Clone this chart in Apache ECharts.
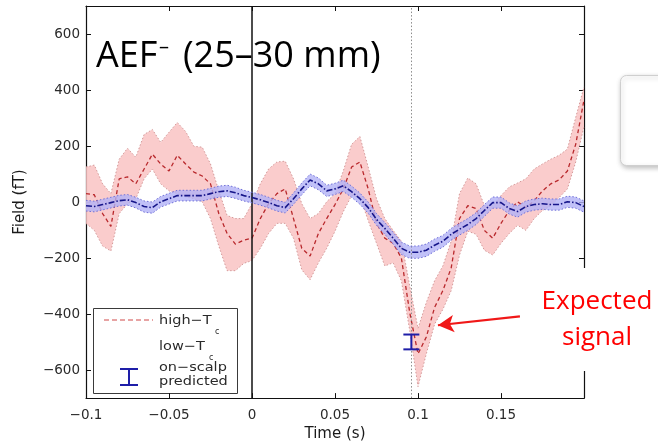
<!DOCTYPE html>
<html>
<head>
<meta charset="utf-8">
<script src="https://cdn.jsdelivr.net/npm/echarts@6/dist/echarts.min.js"></script>
<style>
  html, body { margin: 0; padding: 0; background: #ffffff; }
  #chart { width: 658px; height: 447px; }
</style>
</head>
<body>
<div id="chart"></div>
<script>
// Time base (s), one sample every 5 ms
const timeS = [-0.100,-0.095,-0.090,-0.085,-0.080,-0.075,-0.070,-0.065,-0.060,-0.055,
  -0.050,-0.045,-0.040,-0.035,-0.030,-0.025,-0.020,-0.015,-0.010,-0.005,
  0.000,0.005,0.010,0.015,0.020,0.025,0.030,0.035,0.040,0.045,
  0.050,0.055,0.060,0.065,0.070,0.075,0.080,0.085,0.090,0.095,
  0.100,0.105,0.110,0.115,0.120,0.125,0.130,0.135,0.140,0.145,
  0.150,0.155,0.160,0.165,0.170,0.175,0.180,0.185,0.190,0.195,0.200];

// high-Tc sensor: mean field (fT) and the upper / lower edges of its error band
const highMean = [30,26,-41,-87,83,90,65,118,171,136,
  111,167,136,107,93,65,-41,-112,-150,-136,
  -129,-59,-6,30,47,-59,-165,-193,-112,-59,
  -9,47,125,143,47,-76,-129,-147,-200,-394,
  -542,-482,-376,-316,-235,-59,-13,-23,-101,-129,
  -76,-30,1,-20,5,40,65,79,111,206,365];
const highUpper = [125,132,65,30,153,192,160,241,259,213,
  249,284,252,199,196,136,40,-48,-59,-59,
  -6,65,118,143,146,83,-6,-59,-41,1,
  30,111,206,234,125,12,-59,-101,-140,-299,
  -451,-359,-281,-228,-140,30,86,65,-13,-13,
  23,54,68,83,118,136,153,167,189,302,411];
const highLower = [-76,-101,-157,-175,-41,-6,12,83,118,65,
  40,30,19,12,1,-59,-157,-245,-245,-219,
  -209,-165,-112,-76,-76,-129,-242,-277,-217,-165,
  -104,-34,23,19,-66,-147,-228,-217,-281,-458,
  -659,-542,-436,-383,-316,-189,-104,-115,-172,-189,
  -147,-112,-83,-101,-59,-30,-13,16,47,143,270];

// low-Tc sensor: mean field (fT) and half-width of its error band
const lowMean = [-13,-16,-9,-2,5,8,-2,-16,-20,1,
  12,23,23,23,23,30,37,40,33,23,
  16,8,-2,-13,-20,12,47,79,65,40,
  47,58,37,12,-20,-62,-94,-129,-165,-179,
  -179,-172,-154,-140,-115,-97,-80,-59,-30,-2,
  -2,-23,-34,-16,-9,-6,-9,-9,1,-2,-16];
const lowErr = [19,19,19,19,19,19,19,20,20,19,
  19,19,19,19,19,19,20,20,20,19,
  19,19,19,19,19,20,21,21,21,20,
  20,20,20,20,20,21,21,21,22,22,
  22,22,22,21,21,21,21,21,21,20,
  20,20,20,20,20,20,20,20,20,20,20];

// On-scalp prediction: time (s), low and high end of the error bar (fT)
const predictedTime = 0.096;
const predictedRange = [-526, -473];

// Axis ticks
const yTicks = [-600, -400, -200, 0, 200, 400, 600];
const xTicks = [-0.1, -0.05, 0, 0.05, 0.1, 0.15];

// Arrow annotation: tail and head in (s, fT)
const arrowTail = [0.1614, -408];
const arrowHead = [0.1120, -440];

const pairs = (xs, ys) => xs.map((x, i) => [x, ys[i]]);
const lowUpper = lowMean.map((v, i) => v + lowErr[i]);
const lowLower = lowMean.map((v, i) => v - lowErr[i]);

function bandSeries(upper, lower, fill, z) {
  return {
    type: 'custom',
    z: z,
    silent: true,
    data: [[timeS[0], upper[0]]],
    renderItem: function (params, api) {
      const pts = [];
      for (let i = 0; i < timeS.length; i++) pts.push(api.coord([timeS[i], upper[i]]));
      for (let i = timeS.length - 1; i >= 0; i--) pts.push(api.coord([timeS[i], lower[i]]));
      return { type: 'polygon', shape: { points: pts }, style: { fill: fill } };
    }
  };
}

function lineSeries(ys, color, width, type, z) {
  return {
    type: 'line', z: z, silent: true, symbol: 'none', animation: false,
    data: pairs(timeS, ys),
    lineStyle: { color: color, width: width, type: type }
  };
}

const minusFmt = v => {
  const s = String(parseFloat(Number(v).toFixed(3)));
  return s.replace('-', '\u2212');
};

const tickFont = { fontFamily: 'DejaVu Sans', fontSize: 13.5, color: '#2a2a2a' };
const legendFont = '12.5px "DejaVu Sans"';
const legendStretch = 1.16;

const chart = echarts.init(document.getElementById('chart'), null, { renderer: 'canvas' });

const option = {
  animation: false,
  backgroundColor: '#ffffff',
  grid: { left: 86, right: 74, top: 6, bottom: 48, containLabel: false },
  xAxis: [
    {
      type: 'value', min: -0.1, max: 0.2, interval: 0.05,
      name: 'Time (s)', nameLocation: 'middle', nameGap: 28,
      nameTextStyle: { fontFamily: 'DejaVu Sans', fontSize: 15, color: '#1a1a1a' },
      axisLine: { show: true, onZero: false, lineStyle: { color: '#111', width: 1.2 } },
      axisTick: { show: true, inside: true, length: 5, customValues: xTicks.concat([0.2]), lineStyle: { color: '#111' } },
      axisLabel: { ...tickFont, margin: 10, customValues: xTicks, formatter: minusFmt },
      splitLine: { show: false }
    },
    {
      type: 'value', min: -0.1, max: 0.2, interval: 0.05, position: 'top',
      axisLine: { show: true, onZero: false, lineStyle: { color: '#111', width: 1.2 } },
      axisTick: { show: true, inside: true, length: 5, lineStyle: { color: '#111' } },
      axisLabel: { show: false }, splitLine: { show: false }
    }
  ],
  yAxis: [
    {
      type: 'value', min: -700, max: 700, interval: 100,
      name: 'Field (fT)', nameLocation: 'middle', nameGap: 58, nameRotate: 90,
      nameTextStyle: { fontFamily: 'DejaVu Sans', fontSize: 15, color: '#1a1a1a' },
      axisLine: { show: true, onZero: false, lineStyle: { color: '#111', width: 1.2 } },
      axisTick: { show: true, inside: true, length: 5, customValues: yTicks, lineStyle: { color: '#111' } },
      axisLabel: { ...tickFont, margin: 6, customValues: yTicks, formatter: minusFmt },
      splitLine: { show: false }
    },
    {
      type: 'value', min: -700, max: 700, interval: 100, position: 'right',
      axisLine: { show: true, onZero: false, lineStyle: { color: '#111', width: 1.2 } },
      axisTick: { show: true, inside: true, length: 5, customValues: yTicks, lineStyle: { color: '#111' } },
      axisLabel: { show: false }, splitLine: { show: false }
    }
  ],
  series: [
    bandSeries(highUpper, highLower, 'rgba(249,195,195,0.85)', 1),
    lineSeries(highUpper, '#d49a9a', 1, [1.5, 2], 2),
    lineSeries(highLower, '#d49a9a', 1, [1.5, 2], 2),
    lineSeries(highMean, '#b8282c', 1.3, [4, 3], 3),
    bandSeries(lowUpper, lowLower, 'rgba(178,178,246,0.8)', 4),
    lineSeries(lowUpper, '#7070d8', 1, [1.5, 2], 5),
    lineSeries(lowLower, '#7070d8', 1, [1.5, 2], 5),
    lineSeries(lowMean, '#16168a', 1.6, [6, 2, 1.5, 2], 6),
    {
      // on-scalp predicted amplitude with its error bar
      type: 'custom', z: 8, silent: true,
      data: [[predictedTime, predictedRange[0], predictedRange[1]]],
      renderItem: function (params, api) {
        const lo = api.coord([api.value(0), api.value(1)]);
        const hi = api.coord([api.value(0), api.value(2)]);
        const cap = 8;
        const st = { stroke: '#1e1ea8', lineWidth: 2 };
        return {
          type: 'group', children: [
            { type: 'line', shape: { x1: lo[0], y1: lo[1], x2: hi[0], y2: hi[1] }, style: st },
            { type: 'line', shape: { x1: lo[0] - cap, y1: lo[1], x2: lo[0] + cap, y2: lo[1] }, style: st },
            { type: 'line', shape: { x1: hi[0] - cap, y1: hi[1], x2: hi[0] + cap, y2: hi[1] }, style: st }
          ]
        };
      }
    },
    {
      // stimulus onset, expected peak latency and the annotation arrow
      type: 'line', z: 9, silent: true, data: [], symbol: 'none',
      markLine: {
        silent: true, animation: false, symbol: 'none', precision: 4,
        label: { show: false },
        data: [
          { xAxis: 0, lineStyle: { color: '#111', width: 1.5, type: 'solid' } },
          { xAxis: predictedTime, lineStyle: { color: '#8c8c8c', width: 1, type: [1.5, 2] } },
          [
            { coord: arrowTail, symbol: 'none', lineStyle: { color: '#f01818', width: 2.2, type: 'solid' } },
            { coord: arrowHead, symbol: 'arrow', symbolSize: [13, 16] }
          ]
        ]
      }
    }
  ],
  graphic: [
    // framed callout box at the right edge
    {
      type: 'rect', left: 620, top: 75, z: 20, silent: true,
      shape: { width: 60, height: 90, r: 6 },
      style: { fill: '#ffffff', stroke: '#cfcfcf', lineWidth: 1,
        shadowBlur: 5, shadowOffsetX: 1, shadowOffsetY: 2, shadowColor: 'rgba(0,0,0,0.25)' }
    },
    // backing behind the annotation text
    {
      type: 'rect', left: 536, top: 268, z: 20, silent: true,
      shape: { width: 122, height: 103 },
      style: { fill: '#ffffff' }
    },
    {
      type: 'text', x: 597, y: 302, z: 21, silent: true,
      style: { text: 'Expected', fill: '#ff0000', font: '26px "Open Sans"', align: 'center', verticalAlign: 'middle' }
    },
    {
      type: 'text', x: 597, y: 338, z: 21, silent: true,
      style: { text: 'signal', fill: '#ff0000', font: '26px "Open Sans"', align: 'center', verticalAlign: 'middle' }
    },
    // panel title
    {
      type: 'text', x: 96, y: 57, z: 21, silent: true,
      style: { text: 'AEF', fill: '#000', font: '36px "Open Sans"', align: 'left', verticalAlign: 'middle' }
    },
    {
      type: 'text', x: 159, y: 47, z: 21, silent: true,
      style: { text: '\u2013', fill: '#000', font: '20px "Open Sans"', align: 'left', verticalAlign: 'middle' }
    },
    {
      type: 'text', x: 183, y: 57, z: 21, silent: true,
      style: { text: '(25\u201330 mm)', fill: '#000', font: '36px "Open Sans"', align: 'left', verticalAlign: 'middle' }
    },
    // legend box
    {
      type: 'group', z: 22, silent: true,
      children: [
        { type: 'rect', shape: { x: 93.5, y: 308.5, width: 144, height: 85 },
          style: { fill: '#ffffff', stroke: '#3a3a3a', lineWidth: 1 } },
        { type: 'line', shape: { x1: 104, y1: 320, x2: 153, y2: 320 },
          style: { stroke: '#d04848', lineWidth: 1, lineDash: [5, 3] } },
        { type: 'text', x: 159, y: 321, scaleX: legendStretch, style: { text: 'high\u2212T', fill: '#2a2a2a', font: legendFont, verticalAlign: 'middle' } },
        { type: 'text', x: 215, y: 332, style: { text: 'c', fill: '#2a2a2a', font: '8px "DejaVu Sans"', verticalAlign: 'middle' } },
        { type: 'text', x: 159, y: 347, scaleX: legendStretch, style: { text: 'low\u2212T', fill: '#2a2a2a', font: legendFont, verticalAlign: 'middle' } },
        { type: 'text', x: 209, y: 358, style: { text: 'c', fill: '#2a2a2a', font: '8px "DejaVu Sans"', verticalAlign: 'middle' } },
        { type: 'text', x: 159, y: 368, scaleX: legendStretch, style: { text: 'on\u2212scalp', fill: '#2a2a2a', font: legendFont, verticalAlign: 'middle' } },
        { type: 'text', x: 159, y: 382, scaleX: legendStretch, style: { text: 'predicted', fill: '#2a2a2a', font: legendFont, verticalAlign: 'middle' } },
        { type: 'line', shape: { x1: 129, y1: 369, x2: 129, y2: 385 }, style: { stroke: '#1e1ea8', lineWidth: 2 } },
        { type: 'line', shape: { x1: 120, y1: 369, x2: 138, y2: 369 }, style: { stroke: '#1e1ea8', lineWidth: 2 } },
        { type: 'line', shape: { x1: 120, y1: 385, x2: 138, y2: 385 }, style: { stroke: '#1e1ea8', lineWidth: 2 } }
      ]
    }
  ]
};

chart.setOption(option);
</script>
</body>
</html>
